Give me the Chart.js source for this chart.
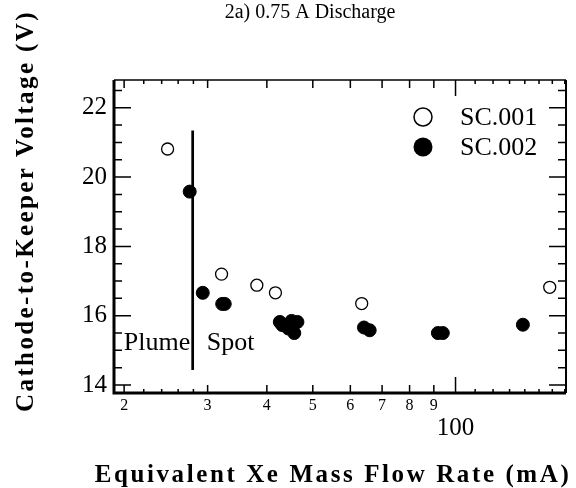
<!DOCTYPE html>
<html>
<head>
<meta charset="utf-8">
<script src="https://cdn.jsdelivr.net/npm/chart.js@4"></script>
<style>
  html, body { margin: 0; padding: 0; background: #fff; }
  #wrap { width: 576px; height: 488px; }
</style>
</head>
<body>
<div id="wrap"><canvas id="chart" width="576" height="488"></canvas></div>
<script>
// ---- data ----
const titleText = "2a) 0.75 A Discharge";
const xTitle = "Equivalent Xe Mass Flow Rate (mA)";
const yTitle = "Cathode-to-Keeper Voltage (V)";

const seriesNames = ["SC.001", "SC.002"];

const sc001X = [24.7, 32.1, 38.1, 41.7, 63.4, 158];
const sc001Y = [20.81, 17.2, 16.88, 16.66, 16.35, 16.82];

const sc002X = [27.5, 29.3, 32.2, 32.6, 42.6, 43.1, 44.4, 45.1, 46.4, 45.7, 64.1, 65.9, 91.8, 94.0, 138.7];
const sc002Y = [19.58, 16.66, 16.34, 16.34, 15.82, 15.73, 15.63, 15.85, 15.82, 15.50, 15.66, 15.58, 15.50, 15.50, 15.74];

// plume / spot boundary
const boundaryX = [27.9, 27.9];
const boundaryY = [21.34, 14.43];
const regionLabels = ["Plume", "Spot"];
const regionLabelY = 15.0;

// axes
const xMin = 19.04, xMax = 171;
const yMin = 13.77, yMax = 22.8;
const xTickValues = [20, 30, 40, 50, 60, 70, 80, 90, 100];
const xTickLabels = ["2", "3", "4", "5", "6", "7", "8", "9", "100"];
const xMinorTicks = [22, 24, 26, 28, 110, 120, 130, 140, 150, 160, 170];
const yTicks = [14, 16, 18, 20, 22];
const yMinorTicks = [14.5, 15, 15.5, 16.5, 17, 17.5, 18.5, 19, 19.5, 20.5, 21, 21.5, 22.5];

const SERIF = "'Liberation Serif', 'Times New Roman', serif";

function toPoints(xs, ys) {
    return xs.map((x, i) => ({ x: x, y: ys[i] }));
}

// ---- frame, ticks, titles, legend drawn on top ----
const decorPlugin = {
    id: "decor",
    afterDraw(chart) {
        const ctx = chart.ctx;
        const area = chart.chartArea;
        const xs = chart.scales.x;
        const ys = chart.scales.y;
        ctx.save();
        ctx.strokeStyle = "#000";
        ctx.fillStyle = "#000";

        // frame
        ctx.lineWidth = 1.5;
        ctx.beginPath();
        ctx.moveTo(area.left, area.top);
        ctx.lineTo(area.right, area.top);
        ctx.stroke();
        ctx.lineWidth = 2;
        ctx.beginPath();
        ctx.moveTo(area.right, area.top);
        ctx.lineTo(area.right, area.bottom);
        ctx.stroke();
        ctx.lineWidth = 3;
        ctx.beginPath();
        ctx.moveTo(area.left, area.top);
        ctx.lineTo(area.left, area.bottom);
        ctx.lineTo(area.right, area.bottom);
        ctx.stroke();

        // y ticks (inward, both sides)
        ctx.lineWidth = 1.5;
        function yTick(v, len) {
            const py = ys.getPixelForValue(v);
            ctx.beginPath();
            ctx.moveTo(area.left, py);
            ctx.lineTo(area.left + len, py);
            ctx.moveTo(area.right, py);
            ctx.lineTo(area.right - len, py);
            ctx.stroke();
        }
        yTicks.forEach(v => yTick(v, 17));
        yMinorTicks.forEach(v => yTick(v, 8));

        // x ticks (inward, top and bottom)
        function xTick(v, len) {
            const px = xs.getPixelForValue(v);
            ctx.beginPath();
            ctx.moveTo(px, area.bottom);
            ctx.lineTo(px, area.bottom - len);
            ctx.moveTo(px, area.top);
            ctx.lineTo(px, area.top + len);
            ctx.stroke();
        }
        xTickValues.forEach(v => xTick(v, v === 100 ? 16 : 8));
        xMinorTicks.forEach(v => xTick(v, 4));

        // title
        ctx.font = "20px " + SERIF;
        ctx.textAlign = "center";
        ctx.textBaseline = "alphabetic";
        ctx.fillText(titleText, 310, 18);

        // axis titles
        ctx.font = "bold 25px " + SERIF;
        ctx.letterSpacing = "2.6px";
        ctx.fillText(xTitle, 333, 482);
        ctx.save();
        ctx.translate(33, 211);
        ctx.rotate(-Math.PI / 2);
        ctx.letterSpacing = "2.4px";
        ctx.fillText(yTitle, 0, 0);
        ctx.restore();
        ctx.letterSpacing = "0px";

        // region labels
        const bx = xs.getPixelForValue(boundaryX[0]);
        const by = ys.getPixelForValue(regionLabelY);
        ctx.font = "26px " + SERIF;
        ctx.textAlign = "right";
        ctx.fillText(regionLabels[0], bx - 2.5, by);
        ctx.textAlign = "left";
        ctx.fillText(regionLabels[1], bx + 14, by);

        // legend
        ctx.textBaseline = "middle";
        ctx.lineWidth = 1.5;
        ctx.beginPath();
        ctx.arc(423, 117, 9, 0, Math.PI * 2);
        ctx.fillStyle = "#fff";
        ctx.fill();
        ctx.stroke();
        ctx.fillStyle = "#000";
        ctx.beginPath();
        ctx.arc(423, 147, 9.5, 0, Math.PI * 2);
        ctx.fill();
        ctx.fillText(seriesNames[0], 460, 118);
        ctx.fillText(seriesNames[1], 460, 148);

        ctx.restore();
    }
};

new Chart(document.getElementById("chart").getContext("2d"), {
    type: "scatter",
    data: {
        datasets: [
            {
                label: seriesNames[0],
                data: toPoints(sc001X, sc001Y),
                pointRadius: 6,
                pointBackgroundColor: "#fff",
                pointBorderColor: "#000",
                pointBorderWidth: 1.3
            },
            {
                label: seriesNames[1],
                data: toPoints(sc002X, sc002Y),
                pointRadius: 6.5,
                pointBackgroundColor: "#000",
                pointBorderColor: "#000",
                pointBorderWidth: 1
            },
            {
                label: "boundary",
                data: toPoints(boundaryX, boundaryY),
                showLine: true,
                borderColor: "#000",
                borderWidth: 2.7,
                pointRadius: 0
            }
        ]
    },
    options: {
        responsive: false,
        animation: false,
        layout: { padding: { top: 80, right: 10, left: 0, bottom: 0 } },
        plugins: {
            legend: { display: false },
            tooltip: { enabled: false },
            title: { display: false }
        },
        scales: {
            x: {
                type: "logarithmic",
                min: xMin,
                max: xMax,
                grid: { display: false, drawTicks: false },
                border: { display: false },
                afterBuildTicks: scale => {
                    scale.ticks = xTickValues.map(v => ({ value: v }));
                },
                afterFit: scale => { scale.height = 95; },
                ticks: {
                    autoSkip: false,
                    maxRotation: 0,
                    padding: 3.4,
                    color: "#000",
                    font: ctx => (ctx.tick && ctx.tick.value === 100)
                        ? { family: SERIF, size: 25, lineHeight: 2.53 }
                        : { family: SERIF, size: 16, lineHeight: 1.2 },
                    callback: value => {
                        const i = xTickValues.indexOf(value);
                        return i >= 0 ? xTickLabels[i] : "";
                    }
                }
            },
            y: {
                type: "linear",
                min: yMin,
                max: yMax,
                grid: { display: false, drawTicks: false },
                border: { display: false },
                afterBuildTicks: scale => {
                    scale.ticks = yTicks.map(v => ({ value: v }));
                },
                afterFit: scale => { scale.width = 114; },
                ticks: {
                    padding: 7,
                    color: "#000",
                    font: { family: SERIF, size: 25 }
                }
            }
        }
    },
    plugins: [decorPlugin]
});
</script>
</body>
</html>
